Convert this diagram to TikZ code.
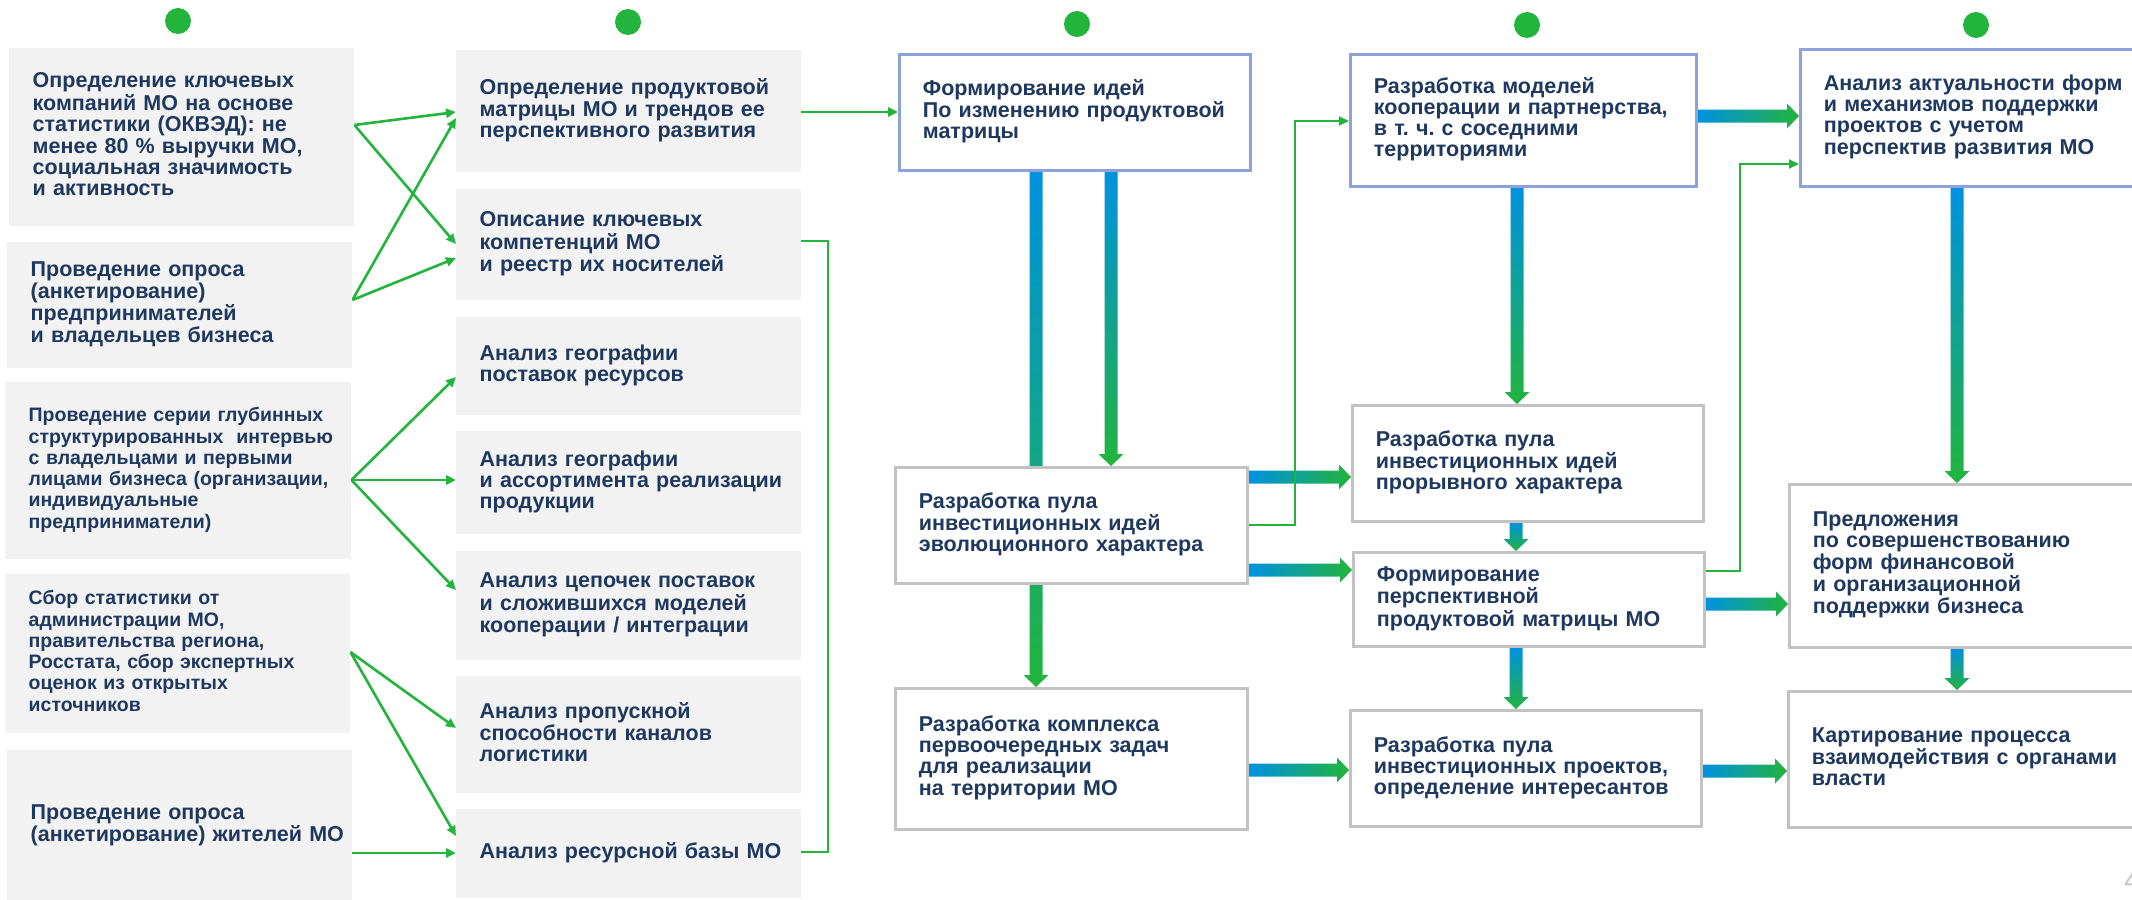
\documentclass[tikz,border=0pt]{standalone}
\usepackage{fontspec}
\setmainfont{Liberation Sans}
\usepackage{xcolor}
\usepackage{tikz}
\usetikzlibrary{arrows.meta, calc, backgrounds}
\definecolor{textnavy}{RGB}{31,56,96}
\definecolor{boxgray}{RGB}{242,242,242}
\definecolor{framegray}{RGB}{194,194,194}
\definecolor{frameblue}{RGB}{139,163,218}
\definecolor{flowgreen}{RGB}{34,180,60}
\definecolor{flowblue}{RGB}{0,146,224}
\definecolor{pagegray}{RGB}{200,200,200}
\frenchspacing

% lines of a box, kept as typed
\newcommand{\boxtext}[1]{\begin{tabular}{@{}l@{}}#1\end{tabular}}
% fat shaded arrows: #1 start, #2 tip
\newcommand{\fatright}[2]{%
  \shade[left color=flowblue, right color=flowgreen]
    ($(#1)+(0,-6.5)$) -- ($(#2)+(-12,-6.5)$) -- ($(#2)+(-12,-12.5)$) -- (#2)
    -- ($(#2)+(-12,12.5)$) -- ($(#2)+(-12,6.5)$) -- ($(#1)+(0,6.5)$) -- cycle;}
\newcommand{\fatdown}[2]{%
  \shade[top color=flowblue, bottom color=flowgreen]
    ($(#1)+(-6.5,0)$) -- ($(#2)+(-6.5,-12)$) -- ($(#2)+(-12.5,-12)$) -- (#2)
    -- ($(#2)+(12.5,-12)$) -- ($(#2)+(6.5,-12)$) -- ($(#1)+(6.5,0)$) -- cycle;}

\begin{document}
\begin{tikzpicture}[x=1pt, y=-1pt]
	\tikzstyle{graybox}=[anchor=north west, fill=boxgray, inner xsep=23.5pt, inner ysep=0pt, align=left, text=textnavy, font=\bfseries\fontsize{21.5}{21}\selectfont]
	\tikzstyle{smallbox}=[graybox, font=\bfseries\fontsize{19.5}{21.3}\selectfont]
	\tikzstyle{whitebox}=[graybox, fill=white, draw=framegray, line width=2.8pt]
	\tikzstyle{bluebox}=[whitebox, draw=frameblue]
	\tikzstyle{stepdot}=[circle, fill=flowgreen, minimum size=26pt, inner sep=0pt]
	\tikzstyle{link}=[draw=flowgreen, line width=2.6pt, -{Triangle[length=10pt, width=9pt]}]
	\tikzstyle{thinlink}=[draw=flowgreen, line width=2pt, -{Triangle[length=10pt, width=9pt]}]

	\useasboundingbox (0,0) rectangle (2132,899);

	\foreach \dx/\dy in {178/21, 628/22, 1077/24, 1527/25, 1976/25}
		\node (dot\dx) at (\dx,\dy) [stepdot] {};

	% sources
	\node (a1) at (9,48) [graybox, text width=298pt, minimum height=178pt] {\boxtext{Определение ключевых\\компаний МО на основе\\статистики (ОКВЭД): не\\менее 80 \% выручки МО,\\социальная значимость\\и активность}};
	\node (a2) at (7,242) [graybox, text width=298pt, minimum height=126pt] {\boxtext{Проведение опроса\\(анкетирование)\\предпринимателей\\и владельцев бизнеса}};
	\node (a3) at (5,382) [smallbox, text width=299pt, minimum height=177pt] {\boxtext{Проведение серии глубинных\\структурированных\ \ интервью\\с владельцами и первыми\\лицами бизнеса (организации,\\индивидуальные\\предприниматели)}};
	\node (a4) at (5,574) [smallbox, text width=298pt, minimum height=159pt] {\boxtext{Сбор статистики от\\администрации МО,\\правительства региона,\\Росстата, сбор экспертных\\оценок из открытых\\источников}};
	\node (a5) at (7,750) [graybox, text width=298pt, minimum height=152pt] {\boxtext{Проведение опроса\\(анкетирование) жителей МО}};

	% analysis
	\node (b1) at (456,50) [graybox, text width=298pt, minimum height=122pt] {\boxtext{Определение продуктовой\\матрицы МО и трендов ее\\перспективного развития}};
	\node (b2) at (456,189) [graybox, text width=298pt, minimum height=111pt] {\boxtext{Описание ключевых\\компетенций МО\\и реестр их носителей}};
	\node (b3) at (456,317) [graybox, text width=298pt, minimum height=98pt] {\boxtext{Анализ географии\\поставок ресурсов}};
	\node (b4) at (456,431) [graybox, text width=298pt, minimum height=103pt] {\boxtext{Анализ географии\\и ассортимента реализации\\продукции}};
	\node (b5) at (456,551) [graybox, text width=298pt, minimum height=109pt] {\boxtext{Анализ цепочек поставок\\и сложившихся моделей\\кооперации / интеграции}};
	\node (b6) at (456,676) [graybox, text width=298pt, minimum height=117pt] {\boxtext{Анализ пропускной\\способности каналов\\логистики}};
	\node (b7) at (456,809) [graybox, text width=298pt, minimum height=89pt] {\boxtext{Анализ ресурсной базы МО}};

	% ideas
	\node (c1) at (898,53) [bluebox, text width=304pt, minimum height=116pt] {\boxtext{Формирование идей\\По изменению продуктовой\\матрицы}};
	\node (c2) at (894,466) [whitebox, text width=305pt, minimum height=116pt] {\boxtext{Разработка пула\\инвестиционных идей\\эволюционного характера}};
	\node (c3) at (894,687) [whitebox, text width=305pt, minimum height=141pt] {\boxtext{Разработка комплекса\\первоочередных задач\\для реализации\\на территории МО}};

	\node (d1) at (1349,53) [bluebox, text width=299pt, minimum height=132pt] {\boxtext{Разработка моделей\\кооперации и партнерства,\\в т. ч. с соседними\\территориями}};
	\node (d2) at (1351,404) [whitebox, text width=304pt, minimum height=116pt] {\boxtext{Разработка пула\\инвестиционных идей\\прорывного характера}};
	\node (d3) at (1352,551) [whitebox, text width=304pt, minimum height=94pt] {\boxtext{Формирование\\перспективной\\продуктовой матрицы МО}};
	\node (d4) at (1349,709) [whitebox, text width=304pt, minimum height=116pt] {\boxtext{Разработка пула\\инвестиционных проектов,\\определение интересантов}};

	\node (e1) at (1799,48) [bluebox, text width=304pt, minimum height=137pt] {\boxtext{Анализ актуальности форм\\и механизмов поддержки\\проектов с учетом\\перспектив развития МО}};
	\node (e2) at (1788,483) [whitebox, text width=304pt, minimum height=163pt] {\boxtext{Предложения\\по совершенствованию\\форм финансовой\\и организационной\\поддержки бизнеса}};
	\node (e3) at (1787,690) [whitebox, text width=304pt, minimum height=136pt] {\boxtext{Картирование процесса\\взаимодействия с органами\\власти}};

	\node (pagenum) at (2124,890) [anchor=base west, inner sep=0pt, text=pagegray, font=\fontsize{30}{30}\selectfont] {4};

	\begin{scope}[on background layer]
	\draw[link] (a1.east |- 0,125) -- (b1.west |- 0,112);
	\draw[link] (a1.east |- 0,125) -- (b2.west |- 0,244);
	\draw[link] (a2.east |- 0,300) -- (b1.west |- 0,118);
	\draw[link] (a2.east |- 0,300) -- (b2.west |- 0,258);
	\draw[link] (a3.east |- 0,480) -- (b3.west |- 0,377);
	\draw[link] (a3.east |- 0,480) -- (b4.west |- 0,480);
	\draw[link] (a3.east |- 0,480) -- (b5.west |- 0,590);
	\draw[link] (a4.east |- 0,652) -- (b6.west |- 0,728);
	\draw[link] (a4.east |- 0,652) -- (b7.west |- 0,836);
	\draw[link] (a5.east |- 0,853) -- (b7.west |- 0,853);

	\draw[link] (b1.east |- 0,112) -- (c1.west |- 0,112);
	\draw[draw=flowgreen, line width=2.6pt] (b2.east |- 0,241) -| (828,852) -- (b7.east |- 0,852);

	\fatdown{c1.south -| 1036,0}{c3.north -| 1036,0}
	\fatdown{c1.south -| 1111,0}{c2.north -| 1111,0}
	\fatright{c2.east |- 0,477}{d2.west |- 0,477}
	\fatright{c2.east |- 0,570}{d3.west |- 0,570}
	\fatright{c3.east |- 0,770}{d4.west |- 0,770}
	\draw[thinlink] (c2.east |- 0,525) -| (1295,121) -- (d1.west |- 0,121);

	\fatdown{d1.south -| 1517,0}{d2.north -| 1517,0}
	\fatdown{d2.south -| 1516,0}{d3.north -| 1516,0}
	\fatdown{d3.south -| 1516,0}{d4.north -| 1516,0}
	\fatright{d1.east |- 0,116}{e1.west |- 0,116}
	\fatright{d3.east |- 0,604}{e2.west |- 0,604}
	\fatright{d4.east |- 0,771}{e3.west |- 0,771}
	\draw[thinlink] (d3.east |- 0,571) -| (1740,164) -- (e1.west |- 0,164);

	\fatdown{e1.south -| 1957,0}{e2.north -| 1957,0}
	\fatdown{e2.south -| 1957,0}{e3.north -| 1957,0}
	\end{scope}
\end{tikzpicture}
\end{document}
